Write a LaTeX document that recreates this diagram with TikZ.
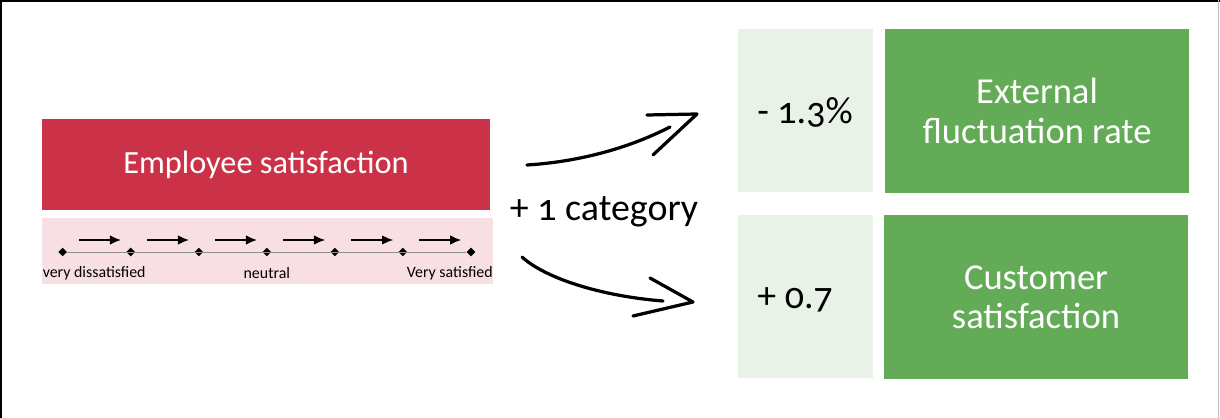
\documentclass[tikz,border=0pt]{standalone}
\usepackage{fontspec}
\setmainfont{Carlito}[Numbers=OldStyle]
\usepackage{xcolor}
\usepackage{tikz}
\usetikzlibrary{arrows.meta, shapes.geometric}

\definecolor{empred}{HTML}{CB3247}
\definecolor{emppink}{HTML}{F7DFE3}
\definecolor{resgreen}{HTML}{63AB56}
\definecolor{palegreen}{HTML}{E8F2E6}

\begin{document}
\begin{tikzpicture}[
    x=0.025cm, y=-0.025cm,
    >=Latex,
    headbox/.style={rectangle, fill=empred, inner sep=0pt, minimum width=11.2cm, minimum height=2.275cm, align=center, text=white, font=\fontsize{23}{27}\selectfont},
    scalebox/.style={rectangle, fill=emppink, inner sep=0pt, minimum width=11.275cm, minimum height=1.65cm},
    deltabox/.style={rectangle, fill=palegreen, inner sep=0pt, minimum width=3.375cm, minimum height=4.075cm},
    resbox/.style={rectangle, fill=resgreen, inner sep=0pt, minimum width=7.6cm, minimum height=4.075cm, align=center, text=white, font=\fontsize{26}{28}\selectfont},
    bigtext/.style={font=\fontsize{27}{30}\selectfont, inner sep=0pt},
    tick/.style={diamond, fill=black, inner sep=0pt, minimum size=0.22cm},
    ticklabel/.style={font=\fontsize{11.3}{13}\selectfont, inner sep=0pt},
    steparrow/.style={draw=black, line width=1.1pt, -{Latex[length=2.8mm, width=2.4mm]}},
    brush/.style={draw=black, line width=2.3pt, line cap=round, line join=round}
]
    \useasboundingbox (0,0) rectangle (1220,418);
    % Frame
    \draw[black, line width=1.6pt] (0.6,418) -- (0.6,0.6) -- (1220,0.6);
    \draw[black!25, line width=1pt] (1218.5,0) -- (1218.5,418);

    % Employee satisfaction and its scale
    \node[headbox]  (EMP)   at (266, 164.5) {Employee satisfaction};
    \node[scalebox] (SCALE) at (267.5, 251) {};
    \foreach \i in {0,...,6}
        \node[tick] (T\i) at (62.7+68.05*\i, 252) {};
    \draw[black!45, line width=0.7pt] (T0) -- (T6);
    \foreach \i in {0,...,5}
        \draw[steparrow] (79+68.05*\i, 240) -- ++(42,0);
    \node[ticklabel, anchor=west] (LOW)  at (42.5, 273) {very dissatisfied};
    \node[ticklabel]              (MID)  at (T3 |- LOW) {neutral};
    \node[ticklabel, anchor=east] (HIGH) at (493, 273) {Very satisfied};

    % Results
    \node[deltabox] (DFLUCT) at (805.5, 110.5) {};
    \node[resbox]   (FLUCT)  at (1037, 111) {External\\fluctuation rate};
    \node[deltabox] (DCUST)  at (805.5, 296.5) {};
    \node[resbox]   (CUST)   at (1036, 297) {Customer\\satisfaction};
    \node[bigtext, anchor=west] (VFLUCT) at (757, 112) {- 1.3\%};
    \node[bigtext, anchor=west] (VCUST)  at (757, 300) {+ 0.7};

    % Effect of one category
    \node[bigtext] (CAT) at (604, 212) {+ 1 category};

    % Hand-drawn arrows
    \coordinate (UPS) at (527, 165);
    \coordinate (UPE) at (670, 127);
    \coordinate (UPT) at (697, 114);
    \draw[brush] (UPS) .. controls (575, 162) and (625, 150) .. (UPE);
    \draw[brush] (647, 115) -- (UPT) -- (653, 155);

    \coordinate (DNS) at (522, 257);
    \coordinate (DNE) at (663, 301);
    \coordinate (DNT) at (693, 302);
    \draw[brush] (DNS) .. controls (545, 278) and (600, 296) .. (DNE);
    \draw[brush] (650, 278) -- (DNT) -- (633, 316);
\end{tikzpicture}
\end{document}
